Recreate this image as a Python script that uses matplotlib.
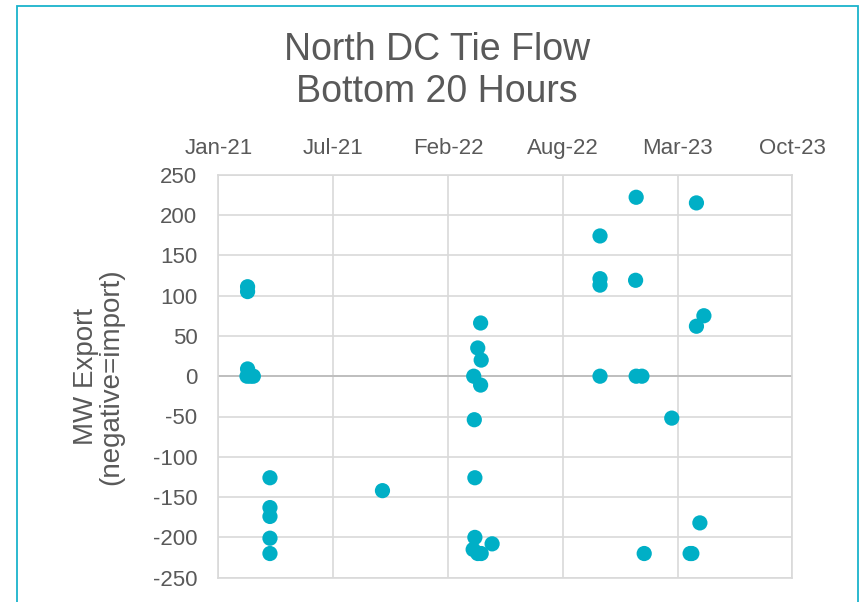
import datetime
import matplotlib
matplotlib.use('Agg')
import matplotlib.pyplot as plt
import matplotlib.dates as mdates
from matplotlib.patches import Rectangle

plt.rcParams['font.family'] = ['Liberation Sans', 'DejaVu Sans']
plt.rcParams['axes.unicode_minus'] = False

# bottom 20 hours of North DC tie flow (date, MW export)
dates = ['2021-02-24', '2021-02-24', '2021-02-24', '2021-02-23', '2021-03-01', '2021-03-06',
         '2021-04-04', '2021-04-04', '2021-04-04', '2021-04-04', '2021-04-04',
         '2021-10-17',
         '2022-03-25', '2022-04-06', '2022-03-26', '2022-03-27', '2022-03-27', '2022-03-24',
         '2022-04-07', '2022-04-01', '2022-04-26', '2022-04-06', '2022-04-01', '2022-04-07',
         '2022-10-31', '2022-10-31', '2022-10-31', '2022-10-31',
         '2023-01-02', '2023-01-01', '2023-01-02', '2023-01-12', '2023-01-16',
         '2023-03-05',
         '2023-04-17', '2023-04-30', '2023-04-17', '2023-04-23', '2023-04-06', '2023-04-09']
mw_export = [111, 105, 9, 0, 0, 0,
             -126, -163, -174, -201, -220,
             -142,
             0, -11, -54, -126, -200, -215,
             -220, -220, -208, 66, 35, 20,
             174, 121, 113, 0,
             222, 119, 0, 0, -220,
             -52,
             215, 75, 62, -182, -220, -220]

# excel style date axis: min 44200, major unit 200 days
axis_start = datetime.date(2021, 1, 4)
tick_dates = [axis_start + datetime.timedelta(days=200 * i) for i in range(6)]

text_col = '#595959'
grid_col = '#D9D9D9'
point_col = '#00AFC6'

x = [datetime.datetime.strptime(d, '%Y-%m-%d') for d in dates]

fig = plt.figure(figsize=(8.61, 6.02), dpi=100)
ax = fig.add_axes([218.3 / 861, 1 - 577.7 / 602, 574 / 861, 403 / 602])

ax.scatter(x, mw_export, s=120, color=point_col, edgecolors='none', zorder=3, clip_on=False)

ax.set_xlim(tick_dates[0], tick_dates[-1])
ax.set_ylim(-250, 250)
ax.set_xticks(tick_dates)
ax.xaxis.set_major_formatter(mdates.DateFormatter('%b-%y'))
ax.set_yticks(range(-250, 251, 50))
ax.xaxis.tick_top()
ax.tick_params(axis='x', length=0, pad=11, labelsize=16, labelcolor=text_col)
ax.tick_params(axis='y', length=0, pad=15, labelsize=16, labelcolor=text_col)

ax.grid(True, color=grid_col, linewidth=1.2, zorder=0)
ax.set_axisbelow(True)
for s in ax.spines.values():
    s.set_color(grid_col)
    s.set_linewidth(1.2)
ax.axhline(0, color='#BFBFBF', linewidth=1.4, zorder=1)

ax.text((98.5 - 218.3) / 574, 0.5, 'MW Export\n(negative=import)', transform=ax.transAxes,
        rotation=90, ha='center', va='center', fontsize=20, color=text_col,
        linespacing=1.0)

fig.text(437 / 861, 1 - 71 / 602, 'North DC Tie Flow\nBottom 20 Hours', ha='center', va='center',
         fontsize=27, color=text_col, linespacing=1.25)

fig.patches.append(Rectangle((16.5 / 861, -0.05), (857.5 - 16.5) / 861, 1.05 - 5.5 / 602,
                             transform=fig.transFigure, fill=False,
                             edgecolor='#1AB3CC', linewidth=1.3))

fig.savefig('out.png', dpi=100)
